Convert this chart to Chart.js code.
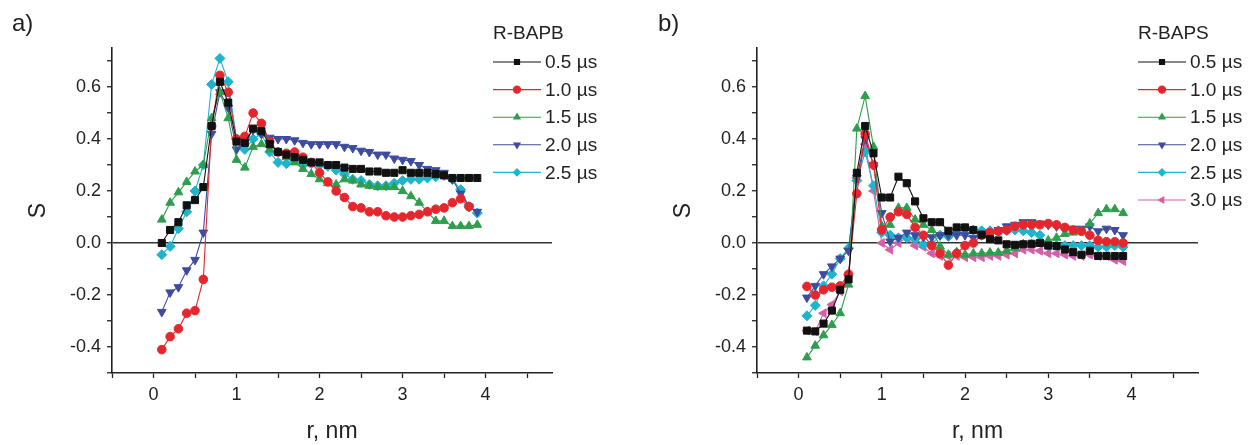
<!DOCTYPE html>
<html lang="en">
    <head>
        <meta charset="UTF-8" />
        <title>Order parameter S vs r</title>
        <script src="https://cdn.jsdelivr.net/npm/chart.js"></script>
        <style>
            body,
            html {
                margin: 0;
                background: #fff;
            }
            #left,
            #right {
                position: absolute;
                top: 0;
            }
            #left {
                left: 0;
            }
            #right {
                left: 625px;
            }
        </style>
    </head>
    <body>
        <canvas id="left" width="625" height="445"></canvas>
        <canvas id="right" width="624" height="445"></canvas>
        <script>
            // distance r, nm (same grid for every series)
            const r = [
                0.1, 0.2, 0.3, 0.4, 0.5, 0.6, 0.7, 0.8, 0.9, 1.0, 1.1, 1.2, 1.3,
                1.4, 1.5, 1.6, 1.7, 1.8, 1.9, 2.0, 2.1, 2.2, 2.3, 2.4, 2.5, 2.6,
                2.7, 2.8, 2.9, 3.0, 3.1, 3.2, 3.3, 3.4, 3.5, 3.6, 3.7, 3.8, 3.9,
            ];
            const xTicks = [-0.5, 0, 0.5, 1, 1.5, 2, 2.5, 3, 3.5, 4, 4.5];
            const yTicks = [-0.5, -0.4, -0.3, -0.2, -0.1, 0, 0.1, 0.2, 0.3, 0.4, 0.5, 0.6, 0.7];
            const timesA = ["0.5 µs", "1.0 µs", "1.5 µs", "2.0 µs", "2.5 µs"];
            const timesB = ["0.5 µs", "1.0 µs", "1.5 µs", "2.0 µs", "2.5 µs", "3.0 µs"];

            // a) R-BAPB
            const a05 = [
                0.0, 0.05, 0.08, 0.145, 0.165, 0.215, 0.45, 0.62, 0.54, 0.39, 0.385, 0.44, 0.43,
                0.38, 0.35, 0.34, 0.33, 0.32, 0.31, 0.31, 0.3, 0.3, 0.29, 0.285, 0.285, 0.275,
                0.275, 0.27, 0.27, 0.28, 0.27, 0.27, 0.27, 0.265, 0.26, 0.25, 0.25, 0.25, 0.25,
            ];
            const a10 = [
                -0.41, -0.36, -0.33, -0.27, -0.26, -0.14, 0.45, 0.645, 0.58, 0.4, 0.41, 0.5, 0.46,
                0.39, 0.35, 0.345, 0.35, 0.33, 0.31, 0.27, 0.235, 0.2, 0.175, 0.14, 0.135, 0.12,
                0.12, 0.105, 0.1, 0.1, 0.105, 0.11, 0.12, 0.13, 0.135, 0.155, 0.17, 0.14, null,
            ];
            const a15 = [
                0.09, 0.155, 0.195, 0.235, 0.275, 0.3, 0.48, 0.58, 0.48, 0.32, 0.29, 0.37, 0.38,
                0.36, 0.35, 0.33, 0.31, 0.285, 0.265, 0.245, 0.23, 0.225, 0.245, 0.24, 0.225, 0.22,
                0.215, 0.215, 0.215, 0.2, 0.18, 0.155, 0.12, 0.085, 0.085, 0.065, 0.065, 0.065, 0.07,
            ];
            const a20 = [
                -0.265, -0.19, -0.17, -0.105, -0.065, 0.04, 0.42, 0.58, 0.52, 0.36, 0.39, 0.435, 0.42,
                0.405, 0.4, 0.4, 0.395, 0.385, 0.38, 0.38, 0.38, 0.38, 0.37, 0.365, 0.355, 0.35,
                0.34, 0.34, 0.325, 0.32, 0.315, 0.3, 0.285, 0.28, 0.27, 0.245, 0.19, 0.14, 0.12,
            ];
            const a25 = [
                -0.045, -0.013, 0.055, 0.12, 0.2, 0.3, 0.61, 0.71, 0.62, 0.4, 0.36, 0.4, 0.42,
                0.35, 0.31, 0.305, 0.32, 0.3, 0.305, 0.3, 0.295, 0.28, 0.265, 0.245, 0.24, 0.225,
                0.22, 0.22, 0.23, 0.24, 0.245, 0.245, 0.25, 0.255, 0.26, 0.245, 0.205, 0.14, 0.115,
            ];

            // b) R-BAPS
            const b05 = [
                -0.337, -0.34, -0.31, -0.26, -0.18, -0.14, 0.27, 0.45, 0.345, 0.175, 0.175, 0.255, 0.23,
                0.16, 0.095, 0.08, 0.08, 0.047, 0.06, 0.06, 0.05, 0.032, 0.015, 0.01, -0.005, -0.007,
                -0.005, -0.003, 0.0, -0.01, -0.012, -0.025, -0.035, -0.045, -0.03, -0.05, -0.05, -0.05, -0.05,
            ];
            const b10 = [
                -0.167, -0.2, -0.18, -0.17, -0.165, -0.12, 0.19, 0.42, 0.3, 0.05, 0.1, 0.12, 0.11,
                0.06, 0.03, -0.01, -0.04, -0.085, -0.04, -0.01, 0.0, 0.03, 0.04, 0.045, 0.05, 0.064,
                0.07, 0.07, 0.07, 0.075, 0.07, 0.06, 0.05, 0.045, 0.03, 0.01, 0.005, 0.005, 0.0,
            ];
            const b15 = [
                -0.44, -0.395, -0.355, -0.315, -0.27, -0.16, 0.44, 0.565, 0.37, 0.065, 0.07, 0.135, 0.135,
                0.09, 0.07, 0.05, -0.013, -0.045, -0.035, -0.045, -0.04, -0.04, -0.037, -0.037, -0.03, -0.02,
                -0.005, -0.005, 0.0, 0.01, 0.02, 0.035, 0.04, 0.045, 0.075, 0.115, 0.13, 0.13, 0.115,
            ];
            const b20 = [
                -0.21, -0.165, -0.12, -0.09, -0.06, -0.03, 0.25, 0.4, 0.3, 0.115, 0.006, 0.02, 0.04,
                0.03, 0.025, 0.022, 0.03, 0.03, 0.03, 0.03, 0.02, 0.03, 0.04, 0.05, 0.064, 0.07,
                0.08, 0.08, 0.075, 0.07, 0.064, 0.05, 0.055, 0.055, 0.064, 0.045, 0.055, 0.05, 0.03,
            ];
            const b25 = [
                -0.28, -0.24, -0.165, -0.12, -0.06, -0.02, 0.24, 0.35, 0.22, 0.04, 0.03, 0.02, 0.02,
                0.015, -0.005, -0.005, 0.03, 0.025, 0.04, 0.055, 0.05, 0.047, 0.047, 0.047, 0.047, 0.05,
                0.047, 0.04, 0.03, -0.01, -0.01, -0.01, -0.01, -0.01, -0.01, -0.015, -0.015, -0.01, -0.015,
            ];
            const b30 = [
                -0.337, -0.34, -0.27, -0.237, -0.186, -0.122, 0.25, 0.38, 0.2, 0.0, -0.026, 0.0, 0.02,
                -0.01, -0.015, -0.04, -0.05, -0.05, -0.05, -0.055, -0.055, -0.055, -0.05, -0.05, -0.045, -0.04,
                -0.026, -0.026, -0.03, -0.04, -0.04, -0.045, -0.05, -0.05, -0.045, -0.05, -0.05, -0.065, -0.07,
            ];

            const colors = ["#111111", "#e5272d", "#2f9d4e", "#3d4c9f", "#1fb4cc", "#d460a8"];
            const styles = [
                { pointStyle: "rect", pointRadius: 5, pointRotation: 0 },
                { pointStyle: "circle", pointRadius: 4.3, pointRotation: 0 },
                { pointStyle: "triangle", pointRadius: 5, pointRotation: 0 },
                { pointStyle: "triangle", pointRadius: 5, pointRotation: 180 },
                { pointStyle: "rectRot", pointRadius: 5, pointRotation: 0 },
                { pointStyle: "triangle", pointRadius: 5, pointRotation: 270 },
            ];

            const FONT = "'Liberation Sans', Arial, sans-serif";
            Chart.defaults.font.family = FONT;
            Chart.defaults.color = "#222";

            function makeSets(series, labels) {
                return series.map((ys, i) => ({
                    label: labels[i],
                    data: r
                        .map((x, k) => ({ x: x, y: ys[k] }))
                        .filter((p) => p.y !== null),
                    borderColor: colors[i],
                    backgroundColor: colors[i],
                    borderWidth: 1.1,
                    pointBorderWidth: 1,
                    ...styles[i],
                }));
            }

            // panel label + legend drawn from the datasets themselves
            const panelLegend = {
                id: "panelLegend",
                afterDraw(chart, args, opts) {
                    const ctx = chart.ctx;
                    ctx.save();
                    ctx.fillStyle = "#222";
                    ctx.textBaseline = "middle";
                    ctx.font = "24px " + FONT;
                    ctx.fillText(opts.panel, opts.panelX, 24);
                    ctx.font = "19px " + FONT;
                    ctx.fillText(opts.title, opts.x, 34);
                    chart.data.datasets.forEach((ds, i) => {
                        const y = 62 + i * 27.6;
                        ctx.strokeStyle = ds.borderColor;
                        ctx.fillStyle = ds.borderColor;
                        ctx.lineWidth = 1.1;
                        ctx.beginPath();
                        ctx.moveTo(opts.x, y);
                        ctx.lineTo(opts.x + 48, y);
                        ctx.stroke();
                        Chart.helpers.drawPoint(
                            ctx,
                            {
                                pointStyle: ds.pointStyle,
                                rotation: ds.pointRotation,
                                radius: 3.6,
                                borderWidth: 1,
                            },
                            opts.x + 24,
                            y
                        );
                        ctx.fillStyle = "#222";
                        ctx.fillText(ds.label, opts.x + 52, y + 1);
                    });
                    ctx.restore();
                },
            };

            function makeOptions(axisWidth, padRight, titlePad, legend) {
                return {
                    responsive: false,
                    animation: false,
                    devicePixelRatio: 1,
                    layout: { padding: { top: 48, right: padRight, left: 0, bottom: 0 } },
                    plugins: {
                        legend: { display: false },
                        tooltip: { enabled: false },
                        panelLegend: legend,
                    },
                    scales: {
                        x: {
                            type: "linear",
                            min: -0.5,
                            max: 4.8,
                            afterBuildTicks: (s) => {
                                s.ticks = xTicks.map((v) => ({ value: v }));
                            },
                            afterFit: (s) => {
                                s.height = 72;
                            },
                            ticks: {
                                font: { size: 18 },
                                padding: 6,
                                maxRotation: 0,
                                autoSkip: false,
                                callback: (v) => (Number.isInteger(v) ? String(v) : ""),
                            },
                            grid: {
                                drawOnChartArea: false,
                                tickLength: 5,
                                tickColor: "#222",
                                tickWidth: 1.3,
                            },
                            border: { color: "#222", width: 1.6 },
                            title: {
                                display: true,
                                text: "r, nm",
                                font: { size: 23 },
                                padding: { top: 0, bottom: 0 },
                            },
                        },
                        y: {
                            min: -0.5,
                            max: 0.75,
                            afterBuildTicks: (s) => {
                                s.ticks = yTicks.map((v) => ({ value: v }));
                            },
                            afterFit: (s) => {
                                s.width = axisWidth;
                            },
                            ticks: {
                                font: { size: 18 },
                                padding: 6,
                                autoSkip: false,
                                callback: (v) =>
                                    Math.round(v * 10) % 2 === 0 ? v.toFixed(1) : "",
                            },
                            grid: {
                                color: (c) => (c.tick && c.tick.value === 0 ? "#333" : "rgba(0,0,0,0)"),
                                lineWidth: 1.5,
                                tickLength: 5,
                                tickColor: "#222",
                                tickWidth: 1.3,
                            },
                            border: { color: "#222", width: 1.6 },
                            title: {
                                display: true,
                                text: "S",
                                font: { size: 23 },
                                padding: { top: titlePad, bottom: 0 },
                            },
                        },
                    },
                };
            }

            new Chart(document.getElementById("left"), {
                type: "line",
                data: { datasets: makeSets([a05, a10, a15, a20, a25], timesA) },
                options: makeOptions(112, 73, 25, {
                    panel: "a)",
                    panelX: 12,
                    title: "R-BAPB",
                    x: 493,
                }),
                plugins: [panelLegend],
            });

            new Chart(document.getElementById("right"), {
                type: "line",
                data: { datasets: makeSets([b05, b10, b15, b20, b25, b30], timesB) },
                options: makeOptions(132, 51, 45, {
                    panel: "b)",
                    panelX: 33,
                    title: "R-BAPS",
                    x: 513,
                }),
                plugins: [panelLegend],
            });
        </script>
    </body>
</html>
